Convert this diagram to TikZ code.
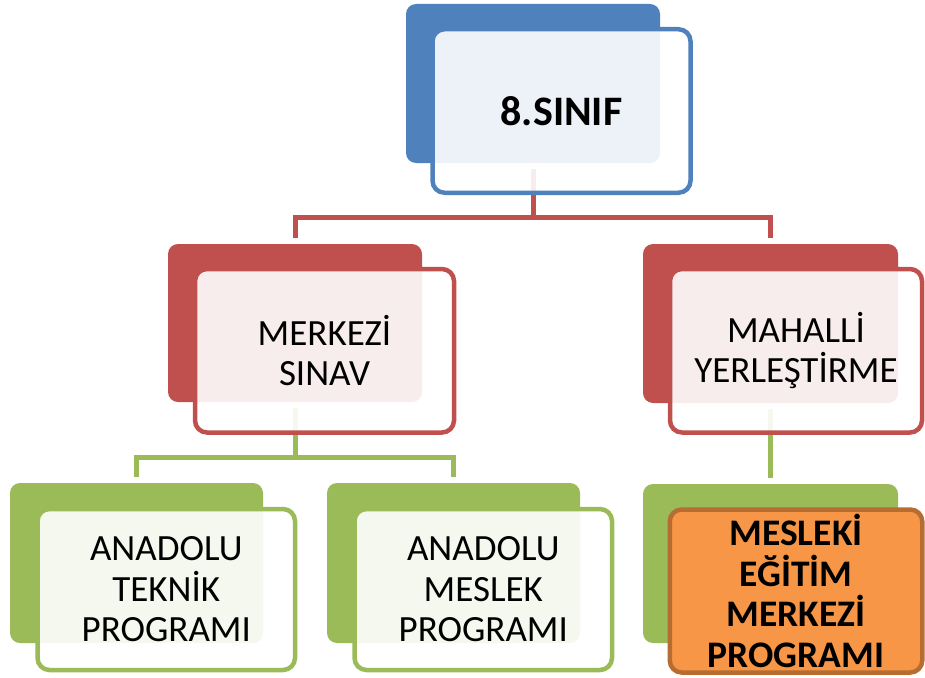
\documentclass[tikz,border=0pt]{standalone}
\usepackage{fontspec}
\setmainfont{Carlito}
\definecolor{cblue}{HTML}{4F81BD}
\definecolor{cred}{HTML}{C0504D}
\definecolor{cgreen}{HTML}{9BBB59}
\definecolor{corange}{HTML}{F79646}
\definecolor{cbrown}{HTML}{B66D31}
\tikzset{
  backbox/.style={draw=none, fill=#1, rounded corners=10pt, inner sep=0pt, outer sep=0pt},
  frontbox/.style={draw=#1, line width=4.5pt, fill=white, fill opacity=0.9, text opacity=1,
     rounded corners=12pt, inner sep=0pt, outer sep=0pt, align=center, text=black,
     font=\fontsize{37}{40.5}\selectfont},
  orangebox/.style={draw=cbrown, line width=4.5pt, fill=corange, rounded corners=12pt,
     inner sep=0pt, outer sep=0pt, align=center, text=black,
     font=\fontsize{37.5}{40.5}\selectfont\bfseries},
  conn/.style={draw=#1, line width=5pt},
}
\begin{document}
\begin{tikzpicture}[x=1pt,y=-1pt]
\useasboundingbox (0,0) rectangle (925,677);
% back boxes
\node[backbox=cblue, minimum width=254, minimum height=159] (topback) at (533,83.5) {};
\node[backbox=cred, minimum width=254, minimum height=158] (merkback) at (295,323) {};
\node[backbox=cred, minimum width=255, minimum height=159] (mahback) at (770.5,323.5) {};
\node[backbox=cgreen, minimum width=253, minimum height=160] (tekback) at (136.5,563) {};
\node[backbox=cgreen, minimum width=253, minimum height=160] (mesback) at (453.5,563) {};
\node[backbox=cgreen, minimum width=255, minimum height=159] (mebback) at (770.5,563.5) {};
% connectors
\draw[conn=cred] ([yshift=-6pt]topback.south) -- ([yshift=-54pt]topback.south) -| ([yshift=6pt]merkback.north);
\draw[conn=cred] ([yshift=-54pt]topback.south) -| ([yshift=6pt]mahback.north);
\draw[conn=cgreen] ([yshift=-6pt]merkback.south) -- ([yshift=-55pt]merkback.south) -| ([yshift=6pt]tekback.north);
\draw[conn=cgreen] ([yshift=-55pt]merkback.south) -| ([yshift=6pt]mesback.north);
\draw[conn=cgreen] ([yshift=-6pt]mahback.south) -- ([yshift=6pt]mebback.north);
% front boxes
\node[frontbox=cblue, minimum width=258, minimum height=163.5, font=\fontsize{42}{46}\selectfont\bfseries] (topfront) at (561.5,111) {8.SINIF};
\node[frontbox=cred, minimum width=259, minimum height=163.5] (merkfront) at (324.5,350.75) {MERKEZİ\\SINAV};
\node[frontbox=cred, minimum width=252, minimum height=163.5] (mahfront) at (796,350.75) {MAHALLİ\\YERLEŞTİRME};
\node[frontbox=cgreen, minimum width=257.5, minimum height=161] (tekfront) at (166.25,589.5) {ANADOLU\\TEKNİK\\PROGRAMI};
\node[frontbox=cgreen, minimum width=257.5, minimum height=161] (mesfront) at (483.25,589.5) {ANADOLU\\MESLEK\\PROGRAMI};
\node[orangebox, minimum width=252.5, minimum height=163] (mebfront) at (796,591) {MESLEKİ\\EĞİTİM\\MERKEZİ\\PROGRAMI};
\end{tikzpicture}
\end{document}
